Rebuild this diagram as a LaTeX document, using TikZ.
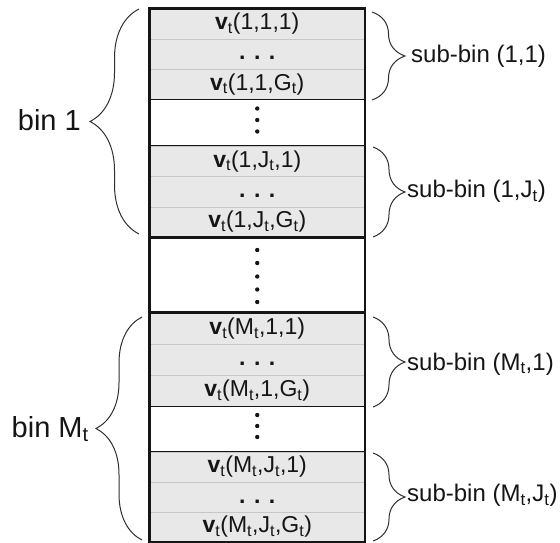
\documentclass[tikz,border=0pt]{standalone}
\usepackage{fontspec}
\setmainfont{Liberation Sans}
\usetikzlibrary{decorations.pathreplacing}
\definecolor{cellfill}{HTML}{E8E8E8}
\definecolor{cellline}{HTML}{C6C6C6}
\definecolor{ink}{HTML}{151515}
\definecolor{bracec}{HTML}{2E2E2E}
\newcommand{\vt}{\textbf{v}\textsubscript{t}}
\newcommand{\sbt}{\textsubscript{t}}
\newcommand{\hdots}{\vphantom{(}\textbf{. . .}}
\begin{document}
\begin{tikzpicture}[x=1pt,y=-1pt,
  cell/.style={draw=cellline, line width=0.6pt, fill=cellfill, minimum width=214.5pt,
    inner sep=0pt, font=\fontsize{23}{27}\selectfont, text=ink},
  vdot/.style={circle, fill=ink, inner sep=0pt, minimum size=4.4pt},
  sepline/.style={draw=ink, line width=1pt},
  binline/.style={draw=ink, line width=2.6pt},
  border/.style={draw=ink, line width=2.6pt, line join=miter},
  bracebase/.style={draw=bracec, line width=1pt, decorate},
  binlabel/.style={font=\fontsize{29}{33}\selectfont, text=ink, inner sep=0pt},
  sublabel/.style={font=\fontsize{24}{28}\selectfont, text=ink, inner sep=0pt}
]
\useasboundingbox (0,0) rectangle (560,543);

% sub-bin (1,1)
\node[cell, minimum height=30pt]   (A1) at (257.25,24)    {\vt(1,1,1)};
\node[cell, minimum height=30pt]   (A2) at (257.25,54)    {\hdots};
\node[cell, minimum height=30.5pt] (A3) at (257.25,84.25) {\vt(1,1,G\sbt)};
% sub-bin (1,J_t)
\node[cell, minimum height=30.5pt] (B1) at (257.25,161.25) {\vt(1,J\sbt,1)};
\node[cell, minimum height=30.5pt] (B2) at (257.25,191.75) {\hdots};
\node[cell, minimum height=30pt]   (B3) at (257.25,222)    {\vt(1,J\sbt,G\sbt)};
% sub-bin (M_t,1)
\node[cell, minimum height=31pt] (C1) at (257.25,328.5) {\vt(M\sbt,1,1)};
\node[cell, minimum height=31pt] (C2) at (257.25,359.5) {\hdots};
\node[cell, minimum height=31pt] (C3) at (257.25,390.5) {\vt(M\sbt,1,G\sbt)};
% sub-bin (M_t,J_t)
\node[cell, minimum height=30pt]   (D1) at (257.25,467)    {\vt(M\sbt,J\sbt,1)};
\node[cell, minimum height=30.5pt] (D2) at (257.25,497.25) {\hdots};
\node[cell, minimum height=29pt]   (D3) at (257.25,527)    {\vt(M\sbt,J\sbt,G\sbt)};

% vertical dots
\node[vdot] (g1a) at (257.25,108.5) {};
\node[vdot] (g1b) at (257.25,120) {};
\node[vdot] (g1c) at (257.25,131.5) {};
\node[vdot] (g2a) at (257.25,250) {};
\node[vdot] (g2b) at (257.25,263) {};
\node[vdot] (g2c) at (257.25,276.5) {};
\node[vdot] (g2d) at (257.25,289.5) {};
\node[vdot] (g2e) at (257.25,302) {};
\node[vdot] (g3a) at (257.25,415) {};
\node[vdot] (g3b) at (257.25,426) {};
\node[vdot] (g3c) at (257.25,437) {};

% separators
\draw[sepline] (A3.south west) -- (A3.south east);
\draw[sepline] (B1.north west) -- (B1.north east);
\draw[binline] (B3.south west) -- (B3.south east);
\draw[binline] (C1.north west) -- (C1.north east);
\draw[sepline] (C3.south west) -- (C3.south east);
\draw[sepline] (D1.north west) -- (D1.north east);
\draw[border] (A1.north west) rectangle (D3.south east);

% left braces
\coordinate (L1b) at (139,234);
\coordinate (L1t) at (139,9);
\draw[bracebase, decoration={brace, amplitude=49pt}] (L1b) -- (L1t);
\node[binlabel, anchor=base east] (bin1) at (81,130.5) {bin 1};

\coordinate (L2b) at (142,540);
\coordinate (L2t) at (142,317);
\draw[bracebase, decoration={brace, amplitude=46pt}] (L2b) -- (L2t);
\node[binlabel, anchor=base east] (binM) at (89,437) {bin M\sbt};

% right braces
\coordinate (R1t) at (372,12);
\coordinate (R1b) at (372,100);
\draw[bracebase, decoration={brace, amplitude=33pt}] (R1t) -- (R1b);
\node[sublabel, anchor=base west] (sb1) at (411,63) {sub-bin (1,1)};

\coordinate (R2t) at (373,147);
\coordinate (R2b) at (373,237);
\draw[bracebase, decoration={brace, amplitude=32pt}] (R2t) -- (R2b);
\node[sublabel, anchor=base west] (sb2) at (407,197.5) {sub-bin (1,J\sbt)};

\coordinate (R3t) at (373,317);
\coordinate (R3b) at (373,407);
\draw[bracebase, decoration={brace, amplitude=32pt}] (R3t) -- (R3b);
\node[sublabel, anchor=base west] (sb3) at (407,370) {sub-bin (M\sbt,1)};

\coordinate (R4t) at (373,453);
\coordinate (R4b) at (373,541);
\draw[bracebase, decoration={brace, amplitude=32pt}] (R4t) -- (R4b);
\node[sublabel, anchor=base west] (sb4) at (407,501.5) {sub-bin (M\sbt,J\sbt)};
\end{tikzpicture}
\end{document}
